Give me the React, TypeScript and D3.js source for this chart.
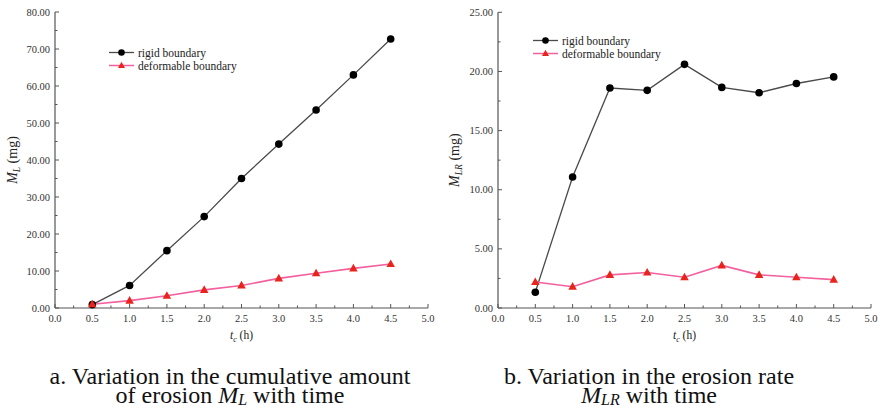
import React from "react";
import * as d3 from "d3";

const times = [0.5, 1.0, 1.5, 2.0, 2.5, 3.0, 3.5, 4.0, 4.5];
const cumRigid = [0.9, 6.1, 15.5, 24.7, 35.0, 44.3, 53.5, 63.0, 72.7];
const cumDeform = [1.0, 2.0, 3.3, 4.9, 6.1, 8.0, 9.4, 10.7, 11.9];
const rateRigid = [1.33, 11.08, 18.6, 18.4, 20.6, 18.65, 18.2, 18.98, 19.54];
const rateDeform = [2.2, 1.8, 2.8, 3.0, 2.6, 3.6, 2.8, 2.6, 2.4];
const xTicks = [0, 0.5, 1.0, 1.5, 2.0, 2.5, 3.0, 3.5, 4.0, 4.5, 5.0];
const yTicksA = [0, 10, 20, 30, 40, 50, 60, 70, 80];
const yTicksB = [0, 5, 10, 15, 20, 25];
const legendLabels = ["rigid boundary", "deformable boundary"];

const SERIF = '"Liberation Serif", "Times New Roman", Times, serif';
const AXIS = "#555";
const RIGID_LINE = "#4a4a4a";
const DEFORM_LINE = "#f2609e";
const TRI = "#e8241c";

function Triangle({ x, y, s = 8 }: { x: number; y: number; s?: number }) {
  const h = s * 0.9;
  return (
    <path
      d={`M${x},${y - h * 0.6} L${x + s / 2},${y + h * 0.4} L${x - s / 2},${y + h * 0.4} Z`}
      fill={TRI}
    />
  );
}

type ChartProps = {
  x0: number;
  x1: number;
  yTop: number;
  yBot: number;
  yTicks: number[];
  rigid: number[];
  deform: number[];
  ySub: string;
  yTitleX: number;
  legendX: number;
  legendY: number[];
};

const serifStyle = { fontFamily: SERIF };

function Chart(p: ChartProps) {
  const xs = d3.scaleLinear().domain([0, 5]).range([p.x0, p.x1]);
  const yMax = p.yTicks[p.yTicks.length - 1];
  const step = p.yTicks[1] - p.yTicks[0];
  const ys = d3.scaleLinear().domain([0, yMax]).range([p.yBot, p.yTop]);
  const line = d3
    .line<number>()
    .x((_, i) => xs(times[i]))
    .y((d) => ys(d));
  const xMinor = d3.range(0.25, 5, 0.5);
  const yMinor = d3.range(step / 2, yMax, step);
  const midY = (p.yTop + p.yBot) / 2;
  return (
    <g style={serifStyle}>
      <line x1={p.x0} x2={p.x0} y1={p.yTop} y2={p.yBot} stroke={AXIS} strokeWidth={1.2} />
      <line x1={p.x0} x2={p.x1} y1={p.yBot} y2={p.yBot} stroke={AXIS} strokeWidth={1.2} />
      {p.yTicks.map((t) => (
        <g key={"yt" + t}>
          <line x1={p.x0} x2={p.x0 + 4} y1={ys(t)} y2={ys(t)} stroke={AXIS} strokeWidth={1} />
          <text x={p.x0 - 5} y={ys(t) + 3.5} textAnchor="end" fontSize={10.5} fill="#333">
            {t.toFixed(2)}
          </text>
        </g>
      ))}
      {yMinor.map((t) => (
        <line key={"ym" + t} x1={p.x0} x2={p.x0 + 2.5} y1={ys(t)} y2={ys(t)} stroke={AXIS} strokeWidth={1} />
      ))}
      {xTicks.map((t) => (
        <g key={"xt" + t}>
          <line x1={xs(t)} x2={xs(t)} y1={p.yBot} y2={p.yBot - 4} stroke={AXIS} strokeWidth={1} />
          <text x={xs(t)} y={p.yBot + 14} textAnchor="middle" fontSize={10.5} fill="#333">
            {t.toFixed(1)}
          </text>
        </g>
      ))}
      {xMinor.map((t) => (
        <line key={"xm" + t} x1={xs(t)} x2={xs(t)} y1={p.yBot} y2={p.yBot - 2.5} stroke={AXIS} strokeWidth={1} />
      ))}
      <text
        transform={`translate(${p.yTitleX},${midY}) rotate(-90)`}
        textAnchor="middle"
        fontSize={14}
        fill="#222"
      >
        <tspan fontStyle="italic">M</tspan>
        <tspan fontStyle="italic" fontSize={9.5} dy={3}>
          {p.ySub}
        </tspan>
        <tspan dy={-3}> (mg)</tspan>
      </text>
      <text x={(p.x0 + p.x1) / 2} y={p.yBot + 31} textAnchor="middle" fontSize={11.5} fill="#222">
        <tspan fontStyle="italic">t</tspan>
        <tspan fontStyle="italic" fontSize={8} dy={2.5}>
          c
        </tspan>
        <tspan dy={-2.5}> (h)</tspan>
      </text>
      <path d={line(p.rigid) || ""} fill="none" stroke={RIGID_LINE} strokeWidth={1.3} />
      <path d={line(p.deform) || ""} fill="none" stroke={DEFORM_LINE} strokeWidth={1.6} />
      {p.rigid.map((v, i) => (
        <circle key={"r" + i} cx={xs(times[i])} cy={ys(v)} r={3.8} fill="#000" />
      ))}
      {p.deform.map((v, i) => (
        <Triangle key={"d" + i} x={xs(times[i])} y={ys(v)} s={8.5} />
      ))}
      <line x1={p.legendX} x2={p.legendX + 25} y1={p.legendY[0]} y2={p.legendY[0]} stroke={RIGID_LINE} strokeWidth={1.3} />
      <circle cx={p.legendX + 12.5} cy={p.legendY[0]} r={3.3} fill="#000" />
      <line x1={p.legendX} x2={p.legendX + 25} y1={p.legendY[1]} y2={p.legendY[1]} stroke={DEFORM_LINE} strokeWidth={1.5} />
      <Triangle x={p.legendX + 12.5} y={p.legendY[1]} s={7} />
      {legendLabels.map((l, i) => (
        <text key={l} x={p.legendX + 29} y={p.legendY[i] + 4} fontSize={11.5} fill="#222">
          {l}
        </text>
      ))}
    </g>
  );
}

export default function App() {
  return (
    <svg width={879} height={406} style={{ position: "absolute", left: 0, top: 0, background: "#fff" }}>
      <rect width={879} height={406} fill="#fff" />
      <Chart
        x0={55}
        x1={428}
        yTop={12}
        yBot={308}
        yTicks={yTicksA}
        rigid={cumRigid}
        deform={cumDeform}
        ySub="L"
        yTitleX={17}
        legendX={109}
        legendY={[52.5, 65.5]}
      />
      <Chart
        x0={498}
        x1={871}
        yTop={12.3}
        yBot={308}
        yTicks={yTicksB}
        rigid={rateRigid}
        deform={rateDeform}
        ySub="LR"
        yTitleX={459}
        legendX={533}
        legendY={[40.5, 53.5]}
      />
      <g style={serifStyle} fill="#111" fontSize={24} textAnchor="middle">
        <text x={230} y={384}>a. Variation in the cumulative amount</text>
        <text x={230} y={403}>
          of erosion <tspan fontStyle="italic">M</tspan>
          <tspan fontStyle="italic" fontSize={16} dy={2}>L</tspan>
          <tspan dy={-2}> with time</tspan>
        </text>
        <text x={649} y={384}>b. Variation in the erosion rate</text>
        <text x={649} y={403}>
          <tspan fontStyle="italic">M</tspan>
          <tspan fontStyle="italic" fontSize={16} dy={2}>LR</tspan>
          <tspan dy={-2}> with time</tspan>
        </text>
      </g>
    </svg>
  );
}
